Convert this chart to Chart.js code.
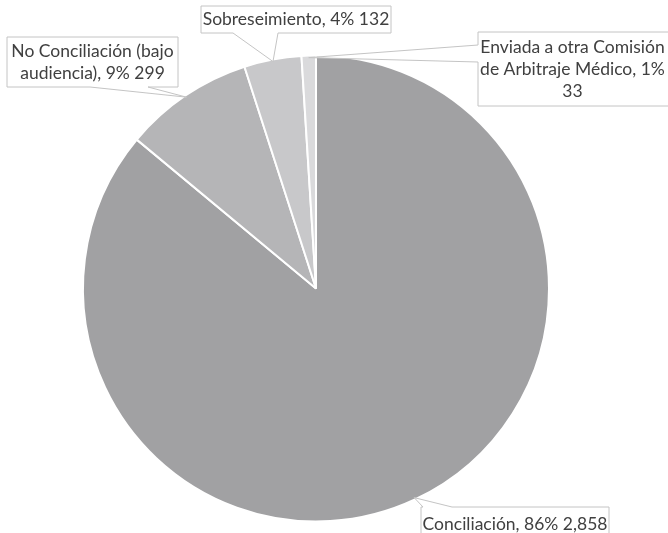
<!DOCTYPE html>
<html>
<head>
<meta charset="utf-8">
<script src="https://cdn.jsdelivr.net/npm/chart.js@4"></script>
<style>
  html, body { margin: 0; padding: 0; background: #fff; }
  #wrap { width: 668px; height: 533px; }
</style>
</head>
<body>
<div id="wrap"><canvas id="pieChart"></canvas></div>
<script>
// Chart data
const categories = [
  "Conciliación",
  "No Conciliación (bajo audiencia)",
  "Sobreseimiento",
  "Enviada a otra Comisión de Arbitraje Médico"
];
const values = [2858, 299, 132, 33];
const sliceColors = ["#a1a1a3", "#b5b5b7", "#c8c8ca", "#dadadc"];

const total = values.reduce((a, b) => a + b, 0);

// Callout boxes (layout only): box rect, side where the wedge leaves, wedge base
const callouts = [
  { x: 421, y: 507, w: 188, h: 34, side: "top", base: [423, 452], wrap: 200 },
  { x: 7, y: 37, w: 171, h: 50, side: "bottom", base: [90, 148], wrap: 166 },
  { x: 201, y: 6, w: 190, h: 27, side: "bottom", base: [233, 278], wrap: 200 },
  { x: 478, y: 32, w: 195, h: 74, side: "left", base: [45, 62], wrap: 196 }
];

function labelText(i) {
  const pct = Math.round((values[i] / total) * 100);
  return `${categories[i]}, ${pct}% ${values[i].toLocaleString("en-US")}`;
}

function wrapText(ctx, text, maxWidth) {
  const words = text.split(" ");
  const lines = [];
  let line = "";
  words.forEach((w) => {
    const test = line ? line + " " + w : w;
    if (ctx.measureText(test).width > maxWidth && line) {
      lines.push(line);
      line = w;
    } else {
      line = test;
    }
  });
  if (line) lines.push(line);
  return lines;
}

const calloutPlugin = {
  id: "callouts",
  afterDatasetsDraw(chart) {
    const ctx = chart.ctx;
    const arcs = chart.getDatasetMeta(0).data;
    ctx.save();
    ctx.font = "17.5px Lato";
    arcs.forEach((arc, i) => {
      const c = callouts[i];
      const mid = (arc.startAngle + arc.endAngle) / 2;
      const r = arc.outerRadius - 2;
      const ax = arc.x + Math.cos(mid) * r;
      const ay = arc.y + Math.sin(mid) * r;

      const { x, y, w, h } = c;
      ctx.beginPath();
      if (c.side === "top") {
        ctx.moveTo(x, y);
        ctx.lineTo(c.base[0], y);
        ctx.lineTo(ax, ay);
        ctx.lineTo(c.base[1], y);
        ctx.lineTo(x + w, y);
        ctx.lineTo(x + w, y + h);
        ctx.lineTo(x, y + h);
      } else if (c.side === "bottom") {
        ctx.moveTo(x, y);
        ctx.lineTo(x + w, y);
        ctx.lineTo(x + w, y + h);
        ctx.lineTo(c.base[1], y + h);
        ctx.lineTo(ax, ay);
        ctx.lineTo(c.base[0], y + h);
        ctx.lineTo(x, y + h);
      } else {
        ctx.moveTo(x, y);
        ctx.lineTo(x + w, y);
        ctx.lineTo(x + w, y + h);
        ctx.lineTo(x, y + h);
        ctx.lineTo(x, c.base[1]);
        ctx.lineTo(ax, ay);
        ctx.lineTo(x, c.base[0]);
      }
      ctx.closePath();
      ctx.fillStyle = "#ffffff";
      ctx.fill();
      ctx.strokeStyle = "#c4c4c4";
      ctx.lineWidth = 1;
      ctx.stroke();

      // text
      const lines = wrapText(ctx, labelText(i), c.wrap);
      const lh = 22;
      const cx = x + w / 2 - (i === 3 ? 3 : 0);
      const cy = y + h / 2 - ((lines.length - 1) * lh) / 2;
      ctx.fillStyle = "#404040";
      ctx.textAlign = "center";
      ctx.textBaseline = "middle";
      lines.forEach((ln, k) => ctx.fillText(ln, cx, cy + k * lh));
    });
    ctx.restore();
  }
};

new Chart(document.getElementById("pieChart"), {
  type: "pie",
  data: {
    labels: categories,
    datasets: [
      {
        data: values,
        backgroundColor: sliceColors,
        borderColor: "#ffffff",
        borderWidth: 2
      }
    ]
  },
  options: {
    responsive: true,
    maintainAspectRatio: false,
    animation: false,
    layout: {
      padding: { left: 82, right: 118, top: 54, bottom: 10 }
    },
    plugins: {
      legend: { display: false },
      tooltip: { enabled: false }
    }
  },
  plugins: [calloutPlugin]
});
</script>
</body>
</html>
